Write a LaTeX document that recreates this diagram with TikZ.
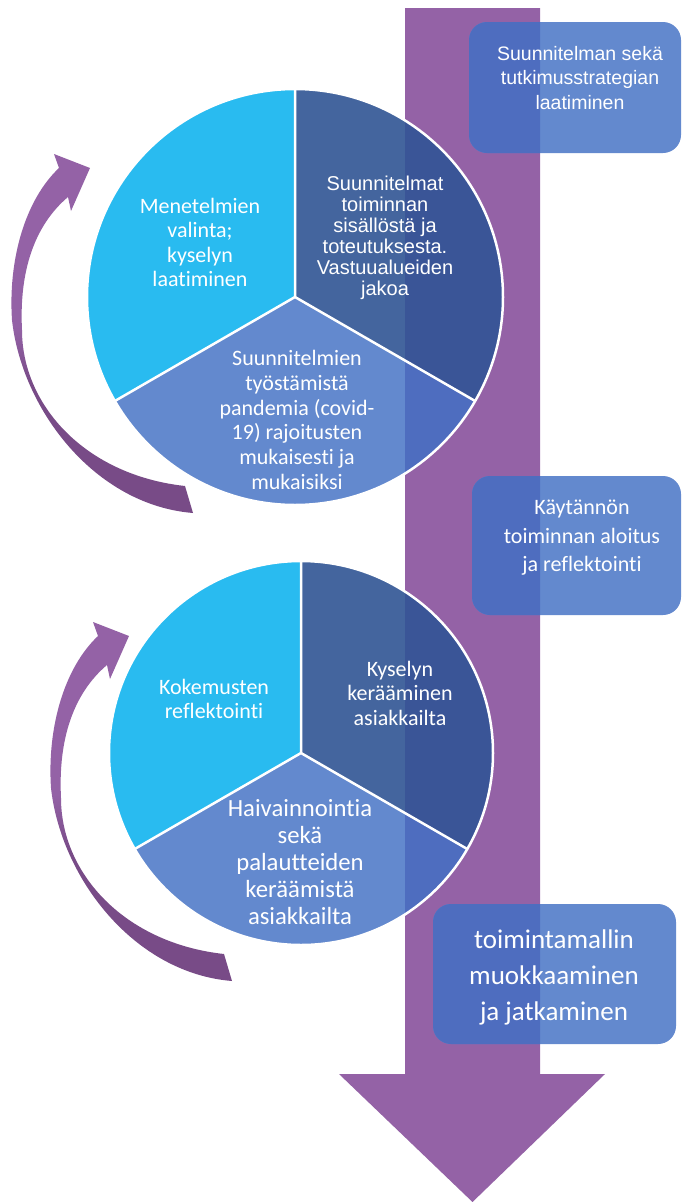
\documentclass[tikz,border=0pt]{standalone}
\usepackage{fontspec}
\newfontfamily\calfont[Ligatures={NoCommon,NoContextual},RawFeature={-liga;-clig;-dlig}]{Carlito}
\newfontfamily\arifont{Liberation Sans}
\definecolor{arrowtop}{HTML}{9462A6}
\definecolor{arrowbot}{HTML}{784B87}
\definecolor{lightc}{HTML}{29BBF0}
\definecolor{darkc}{HTML}{44659E}
\definecolor{darkO}{HTML}{3A5597}
\definecolor{medc}{HTML}{6389CE}
\definecolor{medO}{HTML}{4E6DBF}
\pgfdeclareverticalshading{curvshade}{100bp}{color(0bp)=(arrowbot); color(25bp)=(arrowbot); color(43bp)=(arrowbot); color(51bp)=(arrowtop); color(75bp)=(arrowtop); color(100bp)=(arrowtop)}
\tikzset{
  ctext/.style={text=white, align=center, inner sep=0pt, font=\calfont\fontsize{22}{24.5}\selectfont},
  atext/.style={text=white, align=center, inner sep=0pt, font=\arifont\fontsize{20}{21}\selectfont},
  segborder/.style={draw=white, line width=2.5pt, line join=round},
  bigarrow/.style={fill=arrowtop},
  curvarrow/.style={shading=curvshade},
  boxfill/.style={fill=medc, rounded corners=18pt},
  boxover/.style={fill=medO, rounded corners=18pt},
}
\newcommand{\curvedarrowpath}{(193,513) .. controls (95,505) and (22,410) .. (12,320) .. controls (8,260) and (25,200) .. (59,168) -- (54,154) -- (90,168) -- (71,211) -- (68,197) .. controls (35,225) and (19,270) .. (22,330) .. controls (22,405) and (85,475) .. (185,486) -- cycle}
\begin{document}
\begin{tikzpicture}[x=1pt,y=-1pt]
\useasboundingbox (0,0) rectangle (682,1202);
% main downward arrow
\fill[bigarrow] (405,8) -- (540,8) -- (540,1074) -- (605,1074) -- (472.5,1202) -- (339,1074) -- (405,1074) -- cycle;
% curved arrows
\shade[curvarrow] \curvedarrowpath;
\begin{scope}[shift={(39,468)}]
\shade[curvarrow] \curvedarrowpath;
\end{scope}
% circle 1
\coordinate (c1) at (295,297);
\fill[lightc] (c1) -- (295,89) arc[start angle=-90, end angle=-210, radius=208] -- cycle;
\fill[darkc] (c1) -- (295,89) arc[start angle=-90, end angle=30, radius=208] -- cycle;
\fill[medc] (c1) -- (475.13,401) arc[start angle=30, end angle=150, radius=208] -- cycle;
\begin{scope}
\clip (405,0) rectangle (540,1202);
\fill[darkO] (c1) -- (295,89) arc[start angle=-90, end angle=30, radius=208] -- cycle;
\fill[medO] (c1) -- (475.13,401) arc[start angle=30, end angle=150, radius=208] -- cycle;
\end{scope}
\draw[segborder] (c1) circle[radius=208];
\draw[segborder] (295,89) -- (c1) -- (475.13,401);
\draw[segborder] (c1) -- (114.87,401);
% circle 2
\coordinate (c2) at (301,753);
\fill[lightc] (c2) -- (301,561) arc[start angle=-90, end angle=-210, radius=192] -- cycle;
\fill[darkc] (c2) -- (301,561) arc[start angle=-90, end angle=30, radius=192] -- cycle;
\fill[medc] (c2) -- (467.28,849) arc[start angle=30, end angle=150, radius=192] -- cycle;
\begin{scope}
\clip (405,0) rectangle (540,1202);
\fill[darkO] (c2) -- (301,561) arc[start angle=-90, end angle=30, radius=192] -- cycle;
\fill[medO] (c2) -- (467.28,849) arc[start angle=30, end angle=150, radius=192] -- cycle;
\end{scope}
\draw[segborder] (c2) circle[radius=192];
\draw[segborder] (301,561) -- (c2) -- (467.28,849);
\draw[segborder] (c2) -- (134.72,849);
% boxes
\fill[boxfill] (469,22) rectangle (681,153);
\fill[boxfill] (472,476) rectangle (681,615);
\fill[boxfill] (433,904) rectangle (676,1044);
\begin{scope}
\clip (405,0) rectangle (540,1202);
\fill[boxover] (469,22) rectangle (681,153);
\fill[boxover] (472,476) rectangle (681,615);
\fill[boxover] (433,904) rectangle (676,1044);
\end{scope}
% texts
\node[ctext] (t1l) at (200,242.5) {Menetelmien\\valinta;\\kyselyn\\laatiminen};
\node[atext] (t1r) at (385,238) {Suunnitelmat\\toiminnan\\sisällöstä ja\\toteutuksesta.\\Vastuualueiden\\jakoa};
\node[ctext, font=\calfont\fontsize{22}{24.7}\selectfont] (t1b) at (297,420) {Suunnitelmien\\työstämistä\\pandemia (covid-\\19) rajoitusten\\mukaisesti ja\\mukaisiksi};
\node[atext, font=\arifont\fontsize{19.5}{24.5}\selectfont] (b1) at (580,78) {Suunnitelman sekä\\tutkimusstrategian\\laatiminen};
\node[ctext, font=\calfont\fontsize{22}{28.5}\selectfont] (b2) at (582,538) {Käytännön\\toiminnan aloitus\\ja reflektointi};
\node[ctext, font=\calfont\fontsize{27}{36}\selectfont] (b3) at (554,977) {toimintamallin\\muokkaaminen\\ja jatkaminen};
\node[ctext] (t2l) at (214,699) {Kokemusten\\reflektointi};
\node[ctext] (t2r) at (400,693) {Kyselyn\\kerääminen\\asiakkailta};
\node[ctext, font=\calfont\fontsize{24.7}{27}\selectfont] (t2b) at (300,862) {Haivainnointia\\sekä\\palautteiden\\keräämistä\\asiakkailta};
\end{tikzpicture}
\end{document}
